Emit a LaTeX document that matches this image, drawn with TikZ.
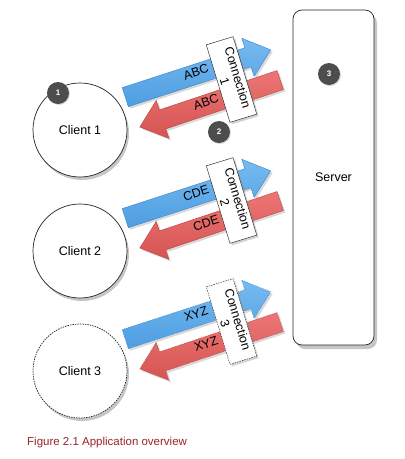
\documentclass[tikz,border=0pt]{standalone}
\usepackage{fontspec}
\setmainfont{Liberation Sans}
\usetikzlibrary{shadows}
\definecolor{bluetop}{RGB}{118,186,240}
\definecolor{bluebot}{RGB}{78,158,226}
\definecolor{blueedge}{RGB}{60,130,200}
\definecolor{redtop}{RGB}{236,118,116}
\definecolor{redbot}{RGB}{214,84,82}
\definecolor{rededge}{RGB}{185,65,65}
\definecolor{badgegray}{RGB}{77,77,77}
\definecolor{captionred}{RGB}{155,35,40}
% right-pointing fat arrow of length #1, centred at origin
\newcommand\myrightarrow[1]{({-#1/2},-10) -- ({#1/2-24},-10) -- ({#1/2-24},-20) -- ({#1/2},0) -- ({#1/2-24},20) -- ({#1/2-24},10) -- ({-#1/2},10) -- cycle}
% left-pointing fat arrow of length #1, centred at origin
\newcommand\myleftarrow[1]{({#1/2},-10) -- ({-#1/2+24},-10) -- ({-#1/2+24},-20) -- ({-#1/2},0) -- ({-#1/2+24},20) -- ({-#1/2+24},10) -- ({#1/2},10) -- cycle}
\tikzset{
  lbl/.style={font=\fontsize{12.5}{13.5}\selectfont},
  client/.style={circle, draw=black!85, line width=0.7pt, fill=white, minimum size=94pt, inner sep=0pt, lbl,
     drop shadow={shadow xshift=2pt, shadow yshift=-3pt, opacity=0.45}},
  fatarrow/.style={line width=0.4pt, drop shadow={shadow xshift=2pt, shadow yshift=-2pt, opacity=0.3}},
  bluearrow/.style={fatarrow, draw=blueedge, top color=bluetop, bottom color=bluebot, rotate=18},
  redarrow/.style={fatarrow, draw=rededge, top color=redtop, bottom color=redbot, rotate=18.5},
  arrowtext/.style={lbl, rotate=18},
  conn/.style={draw=black!80, fill=white, line width=0.5pt, minimum width=81pt, minimum height=28pt,
     inner sep=1pt, align=center, rotate=-73, lbl,
     drop shadow={shadow xshift=2pt, shadow yshift=-2pt, opacity=0.35}},
  badge/.style={circle, fill=badgegray, minimum size=22pt, inner sep=0pt, text=white,
     font=\fontsize{8}{9}\selectfont\bfseries,
     drop shadow={shadow xshift=1pt, shadow yshift=-1pt, opacity=0.3}},
  dashedline/.style={dash pattern=on 1.5pt off 1pt}
}
\begin{document}
\begin{tikzpicture}[x=1pt,y=1pt]
\useasboundingbox (0,0) rectangle (405,-459);

% server
\node[draw=black!85, line width=0.7pt, fill=white, rounded corners=9pt, minimum width=81pt, minimum height=335pt,
      lbl, drop shadow={shadow xshift=3pt, shadow yshift=-4pt, opacity=0.45}] (server) at (333.5,-177.5) {Server};
\node[badge] (b3) at (329,-74) {3};

% clients
\node[client] (c1) at (80,-130) {Client 1};
\node[client] (c2) at (80,-251) {Client 2};
\node[client, dashedline] (c3) at (80,-371) {Client 3};

% set 1
\path[shift={(198,-73.5)}, bluearrow] \myrightarrow{153};
\node[arrowtext] (bt1) at (196,-72) {ABC};
\path[shift={(210,-103.5)}, redarrow] \myleftarrow{148};
\node[arrowtext] (rt1) at (206,-102) {ABC};
\node[conn] (l1) at (231.5,-79.5) {Connection\\1};

% set 2
\path[shift={(198,-194.5)}, bluearrow] \myrightarrow{153};
\node[arrowtext] (bt2) at (196,-193) {CDE};
\path[shift={(210,-224.5)}, redarrow] \myleftarrow{148};
\node[arrowtext] (rt2) at (206,-223) {CDE};
\node[conn] (l2) at (231.5,-200.5) {Connection\\2};

% set 3
\path[shift={(198,-315.5)}, bluearrow, dashedline] \myrightarrow{153};
\node[arrowtext] (bt3) at (196,-314) {XYZ};
\path[shift={(210,-345.5)}, redarrow, dashedline] \myleftarrow{148};
\node[arrowtext] (rt3) at (206,-344) {XYZ};
\node[conn, dashedline] (l3) at (231.5,-321.5) {Connection\\3};

% badges
\node[badge] (b1) at (58,-93) {1};
\node[badge] (b2) at (219,-132) {2};

% caption
\node[anchor=west, text=captionred, font=\fontsize{11.5}{13}\selectfont, inner sep=0pt] (cap) at (27,-443) {Figure 2.1 Application overview};
\end{tikzpicture}
\end{document}
